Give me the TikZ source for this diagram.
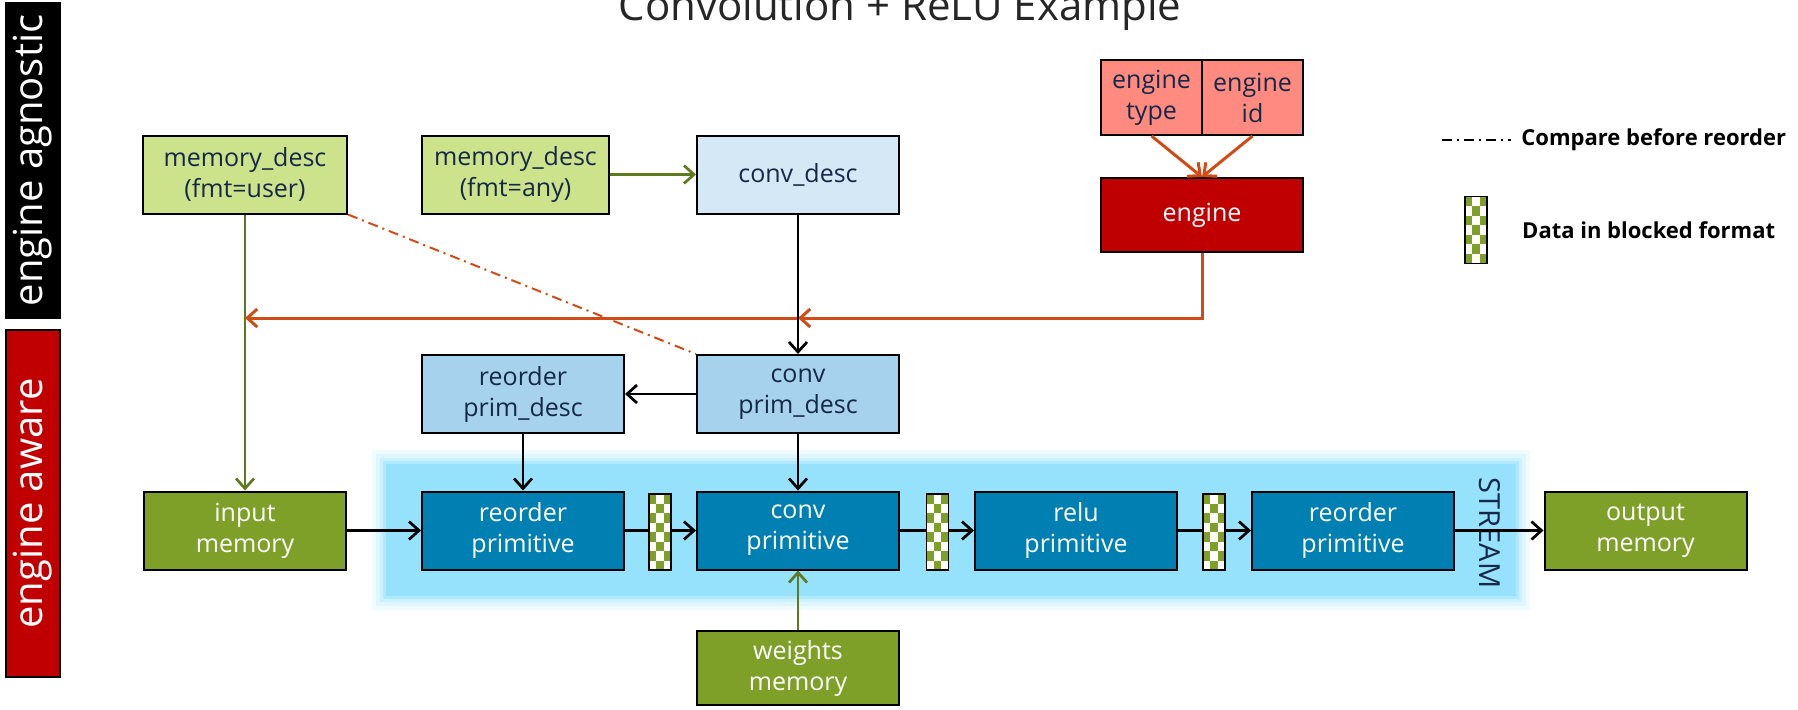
\documentclass[tikz,border=0pt]{standalone}
\usepackage{fontspec}
\setmainfont{Open Sans}
\usepackage{tikz}
\usetikzlibrary{arrows.meta,positioning,calc}
\definecolor{navytext}{RGB}{22,40,72}
\definecolor{leafgreen}{RGB}{204,227,140}
\definecolor{paleblue}{RGB}{212,232,246}
\definecolor{skyblue}{RGB}{166,210,237}
\definecolor{primblue}{RGB}{0,127,178}
\definecolor{olivegreen}{RGB}{127,160,40}
\definecolor{darkolive}{RGB}{95,122,30}
\definecolor{salmonpink}{RGB}{255,138,128}
\definecolor{enginered}{RGB}{192,0,0}
\definecolor{rustorange}{RGB}{208,76,22}
\definecolor{streamcyan}{RGB}{150,226,253}
\tikzset{
  base/.style={font=\fontsize{12.5}{15.5}\selectfont, align=center, inner sep=2pt, text=navytext},
  box/.style={base, rectangle, draw=black, line width=1pt, minimum width=101pt, minimum height=39pt},
  desc/.style={box, fill=leafgreen},
  opdesc/.style={box, fill=paleblue},
  pdesc/.style={box, fill=skyblue},
  prim/.style={box, fill=primblue, text=white},
  mem/.style={box, fill=olivegreen, text=white},
  engpart/.style={box, fill=salmonpink, minimum width=50.5pt, minimum height=37.5pt},
  engbox/.style={box, fill=enginered, text=white, minimum height=37pt},
  band/.style={rectangle, draw=black, line width=0.6pt, rotate=90, text=white, minimum height=27pt, font=\fontsize{20}{24}\selectfont},
  stream/.style={rectangle, fill=streamcyan, inner sep=0pt, minimum width=565pt, minimum height=66pt},
  blocked/.style={rectangle, draw=black, line width=0.8pt, inner sep=0pt, minimum width=11pt, minimum height=38pt, fill=olivegreen,
    path picture={
      \foreach \r in {0,...,8}{
        \ifodd\r
          \fill[white] ([yshift=-\r*4.75pt]path picture bounding box.north west) rectangle ++(3.67pt,-4.75pt);
          \fill[white] ([xshift=7.33pt,yshift=-\r*4.75pt]path picture bounding box.north west) rectangle ++(3.67pt,-4.75pt);
        \else
          \fill[white] ([xshift=3.67pt,yshift=-\r*4.75pt]path picture bounding box.north west) rectangle ++(3.67pt,-4.75pt);
        \fi}}},
  legtext/.style={font=\fontsize{11}{13}\selectfont\bfseries, text=black, inner sep=0pt},
  arr/.style={-{Straight Barb[length=5pt,width=9pt]}, line width=1.35pt, draw=black},
  arrg/.style={arr, draw=darkolive},
  arro/.style={arr, draw=rustorange, line width=1.5pt},
  cmpline/.style={line width=1pt, dash pattern=on 5pt off 2.5pt on 1pt off 2.5pt},
}
\begin{document}
\begin{tikzpicture}[x=0.5pt,y=-0.5pt]
  \useasboundingbox (0,0) rectangle (1798,709);
  \node[font=\fontsize{21}{25}\selectfont, text=black!85, anchor=base] (title) at (900,20) {Convolution + ReLU Example};
  % side bands
  \node[band, fill=black, minimum width=157.5pt] (agnostic) at (33,160.5) {engine agnostic};
  \node[band, fill=enginered, minimum width=173.5pt] (aware) at (33,503.5) {engine aware};
  % stream region with soft edge
  \foreach \g/\c in {7/15,5/30,3/50,1.5/75}
    \node[stream, fill=streamcyan!\c, minimum width=565pt+2*\g pt, minimum height=66pt+2*\g pt] at (951,530) {};
  \node[stream] (streambg) at (951,530) {};
  \node[font=\fontsize{14.5}{17}\selectfont, text=navytext, rotate=-90] (streamlbl) at (1490,533) {STREAM};
  % descriptors
  \node[desc, minimum width=102pt] (mduser) at (245,174.5) {memory\_desc\\(fmt=user)};
  \node[desc, minimum width=93.5pt] (mdany) at (515.5,174.5) {memory\_desc\\(fmt=any)};
  \node[opdesc] (convdesc) at (798,174.5) {conv\_desc};
  \node[engpart] (engtype) at (1151.5,97.5) {engine\\type};
  \node[engpart] (engid) at (1252.5,97.5) {engine\\id};
  \node[engbox] (engine) at (1202,215) {engine};
  \node[pdesc] (reorderpd) at (523,394) {reorder\\prim\_desc};
  \node[pdesc] (convpd) at (798,394) {conv\\prim\_desc};
  % primitives and memories
  \node[mem] (inputmem) at (245,530.5) {input\\memory};
  \node[prim] (reorderp1) at (523,530.5) {reorder\\primitive};
  \node[prim] (convp) at (798,530.5) {conv\\primitive};
  \node[prim] (relup) at (1076,530.5) {relu\\primitive};
  \node[prim] (reorderp2) at (1353,530.5) {reorder\\primitive};
  \node[mem] (outputmem) at (1645.5,530.5) {output\\memory};
  \node[mem, minimum height=37pt] (weightsmem) at (798,668) {weights\\memory};
  % connectors
  \coordinate (busc) at (798,318);
  \coordinate (busl) at (245,318);
  \draw[arro] (engtype.south) -- (engine.north);
  \draw[arro] (engid.south) -- (engine.north);
  \draw[arro] (engine.south) |- (busc);
  \draw[arro] (busc) -- (busl);
  \draw[rustorange, cmpline] (mduser.south east) -- (convpd.north west);
  \draw[arrg] (mduser) -- (inputmem);
  \draw[arrg] (mdany) -- (convdesc);
  \draw[arr] (convdesc) -- (convpd);
  \draw[arr] (convpd) -- (reorderpd);
  \draw[arr] (reorderpd) -- (reorderp1);
  \draw[arr] (convpd) -- (convp);
  \draw[arrg] (weightsmem) -- (convp);
  \draw[arr] (inputmem) -- (reorderp1);
  \draw[arr] (reorderp1) -- (convp);
  \draw[arr] (convp) -- (relup);
  \draw[arr] (relup) -- (reorderp2);
  \draw[arr] (reorderp2) -- (outputmem);
  % blocked data between primitives
  \node[blocked] (blk1) at (660,532) {};
  \node[blocked] (blk2) at (937.5,532) {};
  \node[blocked] (blk3) at (1214,532) {};
  % legend
  \coordinate (lgA) at (1442,140);
  \coordinate (lgB) at (1511,140);
  \draw[cmpline, line width=0.8pt] (lgA) -- (lgB);
  \node[legtext, anchor=west] (lgcmp) at (1521,140) {Compare before reorder};
  \node[blocked, minimum height=33.5pt] (lgblk) at (1476,230) {};
  \node[legtext, right=17pt of lgblk] (lgfmt) {Data in blocked format};
\end{tikzpicture}
\end{document}
